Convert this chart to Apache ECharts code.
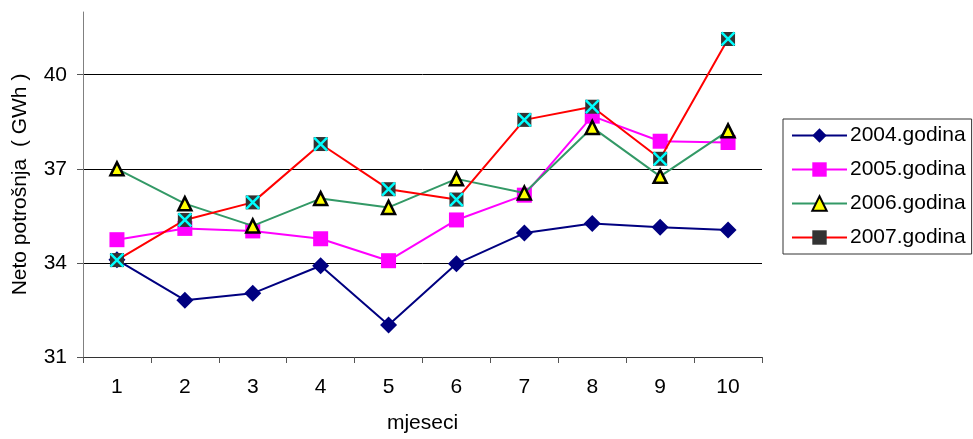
<!DOCTYPE html>
<html>
<head>
<meta charset="utf-8">
<script src="https://cdn.jsdelivr.net/npm/echarts@6/dist/echarts.min.js"></script>
<style>
html,body{margin:0;padding:0;background:#fff;}
#c{width:973px;height:439px;}
</style>
</head>
<body>
<div id="c"></div>
<script>
var months = ['1','2','3','4','5','6','7','8','9','10'];
var s2004 = [34.10, 32.81, 33.03, 33.91, 32.02, 33.97, 34.95, 35.26, 35.14, 35.05];
var s2005 = [34.74, 35.10, 35.02, 34.77, 34.07, 35.37, 36.16, 38.68, 37.88, 37.84];
var s2006 = [37.00, 35.89, 35.18, 36.05, 35.77, 36.68, 36.23, 38.32, 36.76, 38.21];
var s2007 = [34.09, 35.37, 35.93, 37.79, 36.35, 36.02, 38.56, 38.98, 37.32, 41.14];
var names = ['2004.godina', '2005.godina', '2006.godina', '2007.godina'];
var yMin = 31, yMax = 42, yStep = 3;

var FONT = 'Liberation Sans, Arial, sans-serif';
var chart = echarts.init(document.getElementById('c'), null, {renderer: 'canvas'});

var crossPath = 'path://M0,0L10,10M10,0L0,10';

chart.setOption({
  animation: false,
  backgroundColor: '#ffffff',
  textStyle: {fontFamily: FONT},
  grid: {left: 83, right: 211, top: 12, bottom: 79, containLabel: false},
  legend: {
    orient: 'vertical',
    left: 783, top: 119,
    data: names,
    itemWidth: 55, itemHeight: 18, itemGap: 13,
    padding: [6, 6, 6, 8],
    borderColor: '#333', borderWidth: 1,
    textStyle: {fontSize: 21, color: '#000', fontFamily: FONT, padding: [0, 0, 0, -2]}
  },
  xAxis: {
    type: 'category',
    data: months,
    boundaryGap: true,
    name: 'mjeseci',
    nameLocation: 'middle',
    nameGap: 56,
    nameTextStyle: {fontSize: 21, color: '#000', fontFamily: FONT},
    axisLine: {lineStyle: {color: '#333', width: 1}},
    axisTick: {show: true, alignWithLabel: false, length: 6, lineStyle: {color: '#555'}},
    axisLabel: {fontSize: 21, color: '#000', margin: 20, fontFamily: FONT},
    splitLine: {show: false}
  },
  yAxis: {
    type: 'value',
    min: yMin, max: yMax, interval: yStep,
    name: 'Neto potrošnja  ( GWh )',
    nameLocation: 'middle',
    nameGap: 52,
    nameTextStyle: {fontSize: 21, color: '#000', fontFamily: FONT},
    axisLine: {show: true, lineStyle: {color: '#808080', width: 1}},
    axisTick: {show: true, length: 6, lineStyle: {color: '#555'}},
    axisLabel: {fontSize: 21, color: '#000', margin: 16, showMaxLabel: false, fontFamily: FONT},
    splitLine: {show: true, lineStyle: {color: ['#000', '#000', '#000', '#000', 'rgba(0,0,0,0)'], width: 1}}
  },
  series: [
    {
      name: names[0], type: 'line', data: s2004,
      symbol: 'diamond', symbolSize: 17,
      lineStyle: {color: '#000080', width: 2},
      itemStyle: {color: '#000080'}, z: 2
    },
    {
      name: names[1], type: 'line', data: s2005,
      symbol: 'rect', symbolSize: 15,
      lineStyle: {color: '#FF00FF', width: 2},
      itemStyle: {color: '#FF00FF'}, z: 3
    },
    {
      name: names[2], type: 'line', data: s2006,
      symbol: 'triangle', symbolSize: 13,
      lineStyle: {color: '#339966', width: 2},
      itemStyle: {color: '#FFFF00', borderColor: '#000', borderWidth: 2.5}, z: 4
    },
    {
      name: names[3], type: 'line', data: s2007,
      symbol: 'rect', symbolSize: 14,
      lineStyle: {color: '#FF0000', width: 2},
      itemStyle: {color: '#333333'}, z: 5
    },
    {
      name: names[3] + ' x', type: 'line', data: s2007,
      symbol: crossPath, symbolSize: 13,
      lineStyle: {width: 0, opacity: 0},
      itemStyle: {color: 'rgba(0,0,0,0)', borderColor: '#00FFFF', borderWidth: 2.5},
      z: 6, silent: true
    }
  ]
});
</script>
</body>
</html>
